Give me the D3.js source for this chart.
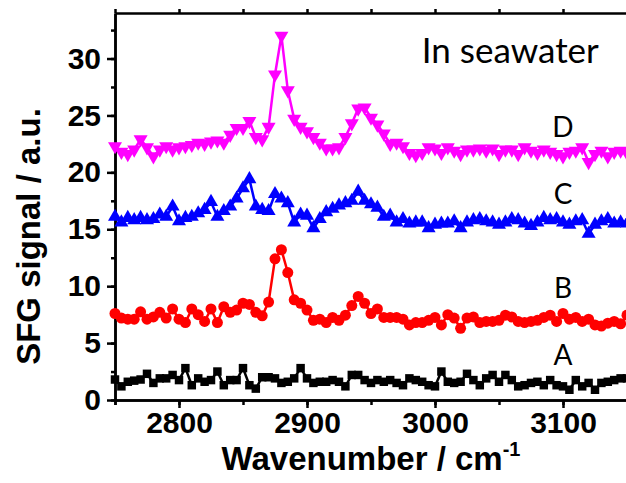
<!DOCTYPE html>
<html lang="en">
<head>
    <meta charset="UTF-8">
    <title>SFG spectra in seawater</title>
    <style>
        body { margin: 0; background: #fff; }
        .tick text { font: bold 30px "Liberation Sans", Arial, sans-serif; fill: #000; }
        .axis path, .axis line { stroke: #000; stroke-width: 2.5px; }
        .series { fill: none; stroke-width: 2.5px; }
        .note { font-family: Lato, "Open Sans", sans-serif; fill: #000; }
    </style>
</head>
<body>
    <svg width="626" height="483"></svg>
    <script src="https://d3js.org/d3.v7.min.js"></script>
    <script>
        // wavenumbers (cm-1)
        const wavenumber = [
            2750, 2755, 2760, 2765, 2770, 2775, 2780, 2785, 2790, 2795,
            2800, 2805, 2810, 2815, 2820, 2825, 2830, 2835, 2840, 2845,
            2850, 2855, 2860, 2865, 2870, 2875, 2880, 2885, 2890, 2895,
            2900, 2905, 2910, 2915, 2920, 2925, 2930, 2935, 2940, 2945,
            2950, 2955, 2960, 2965, 2970, 2975, 2980, 2985, 2990, 2995,
            3000, 3005, 3010, 3015, 3020, 3025, 3030, 3035, 3040, 3045,
            3050, 3055, 3060, 3065, 3070, 3075, 3080, 3085, 3090, 3095,
            3100, 3105, 3110, 3115, 3120, 3125, 3130, 3135, 3140, 3145,
            3150
        ];

        // SFG signal (a.u.) for each sample
        const sigA = [
            1.8, 1.2, 1.6, 1.7, 1.8, 2.3, 1.5, 1.9, 1.9, 2.2,
            1.75, 2.8, 1.3, 1.9, 1.6, 1.75, 2.5, 1.3, 1.75, 1.75,
            2.8, 1.3, 1.0, 2.0, 2.0, 1.9, 1.5, 1.6, 1.9, 2.8,
            1.9, 1.5, 1.6, 1.6, 1.75, 1.6, 1.2, 2.2, 2.2, 1.75,
            1.5, 1.75, 1.6, 1.75, 1.5, 1.3, 1.9, 1.75, 1.6, 1.3,
            1.2, 2.5, 1.6, 1.5, 1.6, 2.3, 1.75, 1.3, 1.9, 2.2,
            1.6, 2.2, 1.75, 1.2, 1.3, 1.5, 1.6, 1.3, 1.75, 1.3,
            1.2, 0.9, 1.75, 1.2, 1.5, 0.9, 1.5, 1.6, 1.75, 1.9,
            1.9
        ];
        const sigB = [
            7.6, 7.2, 7.1, 7.1, 7.75, 7.1, 7.3, 7.7, 7.2, 8.0,
            7.1, 6.8, 8.0, 7.5, 6.9, 8.0, 6.8, 8.2, 7.7, 7.9,
            8.5, 8.4, 7.7, 7.4, 8.6, 12.4, 13.2, 11.2, 8.8, 8.5,
            7.9, 7.0, 7.1, 6.8, 7.25, 7.0, 7.45, 8.3, 9.1, 8.5,
            7.6, 8.0, 7.25, 7.25, 7.25, 7.1, 6.6, 6.8, 6.8, 7.0,
            7.25, 6.6, 7.5, 7.2, 6.3, 7.2, 7.3, 6.8, 6.9, 6.9,
            7.0, 7.45, 7.3, 6.9, 6.8, 6.9, 7.0, 7.25, 7.45, 6.9,
            7.6, 7.1, 7.25, 6.9, 7.1, 6.6, 6.5, 6.75, 6.9, 6.7,
            7.45
        ];
        const sigC = [
            16.1, 15.6, 16.0, 15.8, 16.0, 15.8, 15.9, 16.3, 16.1, 17.0,
            15.7, 16.0, 16.1, 16.4, 16.7, 17.4, 16.1, 16.6, 17.0, 17.7,
            18.6, 19.4, 17.0, 16.7, 16.6, 18.1, 17.7, 17.3, 15.6, 16.3,
            16.2, 15.1, 15.9, 16.5, 16.8, 17.1, 17.3, 17.5, 18.3, 17.5,
            17.2, 16.9, 16.1, 16.2, 15.6, 15.9, 15.5, 15.6, 15.6, 15.1,
            15.4, 15.5, 15.5, 15.7, 15.1, 15.6, 15.8, 15.9, 15.7, 15.6,
            15.4, 15.6, 15.9, 15.8, 15.5, 15.3, 15.6, 16.0, 15.8, 15.9,
            15.6, 15.4, 15.7, 15.8, 14.6, 15.4, 15.7, 15.9, 15.5, 15.6,
            15.5
        ];
        const sigD = [
            22.3, 21.8, 21.6, 22.0, 22.9, 22.2, 21.4, 22.0, 22.3, 22.0,
            22.2, 22.3, 22.4, 22.6, 22.5, 22.7, 22.8, 22.6, 23.3, 23.9,
            23.9, 24.5, 23.1, 22.9, 24.0, 28.6, 32.0, 27.2, 24.7, 24.0,
            23.6, 23.1, 22.6, 22.1, 22.1, 22.2, 23.1, 24.3, 25.6, 25.7,
            24.8, 24.2, 23.4, 22.5, 22.6, 22.3, 21.7, 21.5, 21.7, 22.2,
            22.1, 21.7, 22.2, 21.9, 21.6, 22.0, 22.0, 22.1, 21.9, 22.1,
            21.6, 22.0, 22.0, 21.6, 22.2, 21.9, 21.7, 22.0, 21.8, 21.6,
            21.4, 21.8, 21.9, 22.2, 20.9, 21.6, 21.9, 21.4, 21.8, 21.9,
            21.7
        ];

        const seriesNames = ["A", "B", "C", "D"];
        const seriesValues = [sigA, sigB, sigC, sigD];
        const seriesColors = ["#000000", "#ff0000", "#0000ff", "#ff00ff"];
        const seriesSymbols = ["square", "circle", "triangle-up", "triangle-down"];
        const labelY = [3.1, 9.0, 17.2, 23.1];

        const xTicks = [2800, 2900, 3000, 3100];
        const yTicks = [0, 5, 10, 15, 20, 25, 30];

        const margin = { top: 13, right: -1, bottom: 83, left: 115 },
              width = 626 - margin.left - margin.right,
              height = 483 - margin.top - margin.bottom;

        const svg = d3.select("svg")
          .append("g")
            .attr("transform", "translate(" + margin.left + "," + margin.top + ")");

        const x = d3.scaleLinear().domain([2750, 3150]).range([0, width]);
        const y = d3.scaleLinear().domain([0, 34]).range([height, 0]);

        // minor ticks halfway between the major ones
        const xMinor = d3.range(2750, 3151, 50);
        const yMinor = d3.range(0, 34, 2.5);

        // bottom axis
        svg.append("g")
            .attr("class", "axis")
            .attr("transform", "translate(0," + height + ")")
            .call(d3.axisBottom(x).tickValues(xMinor).tickSize(5).tickFormat(""));
        svg.append("g")
            .attr("class", "axis")
            .attr("transform", "translate(0," + height + ")")
            .call(d3.axisBottom(x).tickValues(xTicks).tickSize(8).tickSizeOuter(0).tickPadding(4).tickFormat(d3.format("d")));

        // top axis, ticks only
        svg.append("g")
            .attr("class", "axis")
            .call(d3.axisTop(x).tickValues(xMinor).tickSize(4).tickSizeOuter(0).tickFormat(""));

        // left axis
        svg.append("g")
            .attr("class", "axis")
            .call(d3.axisLeft(y).tickValues(yMinor).tickSize(4).tickSizeOuter(0).tickFormat(""));
        svg.append("g")
            .attr("class", "axis")
            .call(d3.axisLeft(y).tickValues(yTicks).tickSize(8).tickSizeOuter(0).tickPadding(6).tickFormat(d3.format("d")));

        svg.selectAll(".axis .domain").attr("stroke-width", 2.5);

        // series
        const line = d3.line()
            .x((d, i) => x(wavenumber[i]))
            .y(d => y(d));

        const symbolFor = {
            "square": d3.symbol(d3.symbolSquare, 72),
            "circle": d3.symbol(d3.symbolCircle, 95),
            "triangle-up": d3.symbol(d3.symbolTriangle, 85),
            "triangle-down": d3.symbol(d3.symbolTriangle, 85)
        };

        seriesValues.forEach((vals, k) => {
            const g = svg.append("g");
            g.append("path")
                .datum(vals)
                .attr("class", "series")
                .attr("stroke", seriesColors[k])
                .attr("d", line);
            g.selectAll("path.marker")
                .data(vals)
                .join("path")
                .attr("class", "marker")
                .attr("fill", seriesColors[k])
                .attr("transform", (d, i) => "translate(" + x(wavenumber[i]) + "," + y(d) + ")" +
                    (seriesSymbols[k] === "triangle-down" ? " rotate(180)" : ""))
                .attr("d", symbolFor[seriesSymbols[k]]());
            svg.append("text")
                .attr("class", "note")
                .attr("x", x(3100))
                .attr("y", y(labelY[k]))
                .attr("text-anchor", "middle")
                .attr("font-size", 28)
                .text(seriesNames[k]);
        });

        svg.append("text")
            .attr("class", "note")
            .attr("x", x(3128))
            .attr("y", y(29.6))
            .attr("text-anchor", "end")
            .attr("font-size", 35)
            .text("In seawater");

        // axis titles
        const xTitle = svg.append("text")
            .attr("x", width / 2)
            .attr("y", height + 70)
            .attr("text-anchor", "middle")
            .style("font", "bold 33px 'Liberation Sans', Arial, sans-serif");
        xTitle.append("tspan").text("Wavenumber / cm");
        xTitle.append("tspan").attr("dy", -14).attr("font-size", 20).text("-1");

        svg.append("text")
            .attr("transform", "translate(" + (-75) + "," + (height / 2 + 30) + ") rotate(-90)")
            .attr("text-anchor", "middle")
            .style("font", "bold 33px 'Liberation Sans', Arial, sans-serif")
            .text("SFG signal / a.u.");
    </script>
</body>
</html>
